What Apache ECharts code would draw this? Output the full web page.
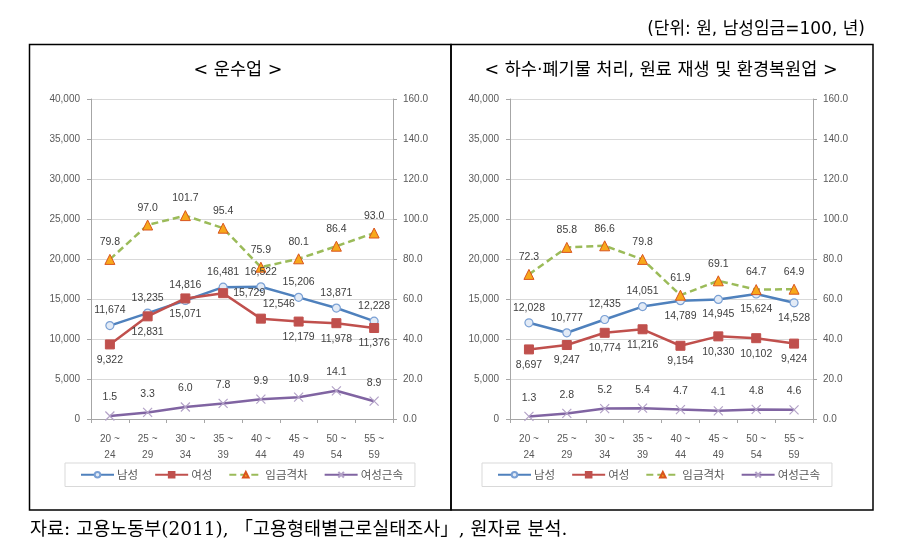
<!DOCTYPE html>
<html>
<head>
<meta charset="utf-8">
<script src="https://cdn.jsdelivr.net/npm/echarts@6/dist/echarts.min.js"></script>
<style>
html,body{margin:0;padding:0;background:#fff;}
#c{width:920px;height:546px;}
</style>
</head>
<body>
<div id="c"></div>
<script>
// ---- data ----
const categories = ['20 ~\n24', '25 ~\n29', '30 ~\n34', '35 ~\n39', '40 ~\n44', '45 ~\n49', '50 ~\n54', '55 ~\n59'];
const seriesNames = ['남성', '여성', '임금격차', '여성근속'];

// 운수업
const transMale   = [11674, 13235, 14816, 16481, 16522, 15206, 13871, 12228];
const transFemale = [9322, 12831, 15071, 15729, 12546, 12179, 11978, 11376];
const transRatio  = [79.8, 97.0, 101.7, 95.4, 75.9, 80.1, 86.4, 93.0];
const transTenure = [1.5, 3.3, 6.0, 7.8, 9.9, 10.9, 14.1, 8.9];

// 하수·폐기물 처리, 원료 재생 및 환경복원업
const sewMale   = [12028, 10777, 12435, 14051, 14789, 14945, 15624, 14528];
const sewFemale = [8697, 9247, 10774, 11216, 9154, 10330, 10102, 9424];
const sewRatio  = [72.3, 85.8, 86.6, 79.8, 61.9, 69.1, 64.7, 64.9];
const sewTenure = [1.3, 2.8, 5.2, 5.4, 4.7, 4.1, 4.8, 4.6];

const leftTicks = [0, 5000, 10000, 15000, 20000, 25000, 30000, 35000, 40000];
const rightTicks = [0, 20, 40, 60, 80, 100, 120, 140, 160];

// ---- label placement (style only) ----
const transMalePos   = ['top','top','top','top','top','top','top','top'];
const transFemalePos = ['bottom','bottom','bottom','right','topRight','bottom','bottom','bottom'];
const sewMalePos     = ['top','top','top','top','bottom','bottom','bottom','bottom'];
const sewFemalePos   = ['bottom','bottom','bottom','bottom','bottom','bottom','bottom','bottom'];

const COL = {
  male: '#4F81BD', female: '#C0504D', ratio: '#9BBB59', tenure: '#8064A2'
};
const labelBase = {
  show: true, fontSize: 10.5, color: '#404040', fontFamily: 'Liberation Sans, Arial, sans-serif', distance: 5
};

function withPos(values, pos) {
  return values.map((v, i) => {
    const p = pos[i];
    if (p === 'topRight') {
      return { value: v, label: { position: 'top', offset: [18, 1] } };
    }
    return { value: v, label: { position: p } };
  });
}
const fmtThousand = p => Number(p.value).toLocaleString('en-US');
const fmtOne = p => Number(p.value).toFixed(1);

function buildSeries(gi, male, female, ratio, tenure, malePos, femalePos) {
  const xi = gi, yl = gi * 2, yr = gi * 2 + 1;
  return [
    {
      name: seriesNames[0], type: 'line', xAxisIndex: xi, yAxisIndex: yl,
      data: withPos(male, malePos),
      symbol: 'circle', symbolSize: 8,
      lineStyle: { color: COL.male, width: 2.5 },
      itemStyle: { color: '#e3ebf6', borderColor: '#7aa0d4', borderWidth: 1.2 },
      label: Object.assign({}, labelBase, { formatter: fmtThousand }),
      z: 3
    },
    {
      name: seriesNames[1], type: 'line', xAxisIndex: xi, yAxisIndex: yl,
      data: withPos(female, femalePos),
      symbol: 'rect', symbolSize: 9,
      lineStyle: { color: COL.female, width: 2.5 },
      itemStyle: { color: COL.female, borderColor: COL.female, borderWidth: 1 },
      label: Object.assign({}, labelBase, { formatter: fmtThousand }),
      z: 4
    },
    {
      name: seriesNames[2], type: 'line', xAxisIndex: xi, yAxisIndex: yr,
      data: ratio,
      symbol: 'triangle', symbolSize: 10,
      lineStyle: { color: COL.ratio, width: 2.5, type: [7, 4] },
      itemStyle: { color: '#F7A81B', borderColor: '#D9541E', borderWidth: 1 },
      label: Object.assign({}, labelBase, { position: 'top', distance: 6, formatter: fmtOne }),
      z: 3
    },
    {
      name: seriesNames[3], type: 'line', xAxisIndex: xi, yAxisIndex: yr,
      data: tenure,
      symbol: 'path://M0,0L10,10M0,10L10,0', symbolSize: 9, symbolKeepAspect: true,
      lineStyle: { color: COL.tenure, width: 2.5 },
      itemStyle: { color: 'none', borderColor: '#B3A2C7', borderWidth: 1.2 },
      label: Object.assign({}, labelBase, { position: 'top', distance: 6, formatter: fmtOne }),
      z: 3
    }
  ];
}

const axisLabelStyle = { fontSize: 10, color: '#595959', fontFamily: 'Liberation Sans, Arial, sans-serif' };
const axisLineStyle = { lineStyle: { color: '#A6A6A6', width: 1 } };

function xAxisCfg(gi) {
  return {
    type: 'category', gridIndex: gi, data: categories, boundaryGap: true,
    axisLine: axisLineStyle,
    axisTick: { show: true, length: 4, lineStyle: { color: '#A6A6A6' } },
    axisLabel: Object.assign({}, axisLabelStyle, { margin: 12, lineHeight: 16, interval: 0 })
  };
}
function yAxesCfg(gi) {
  return [
    {
      type: 'value', gridIndex: gi, position: 'left',
      min: leftTicks[0], max: leftTicks[leftTicks.length - 1], interval: leftTicks[1] - leftTicks[0],
      axisLine: Object.assign({ show: true }, axisLineStyle),
      axisTick: { show: true, length: 4, lineStyle: { color: '#A6A6A6' } },
      splitLine: { show: true, lineStyle: { color: '#D9D9D9', width: 1 } },
      axisLabel: Object.assign({}, axisLabelStyle, { margin: 11, formatter: v => Number(v).toLocaleString('en-US') })
    },
    {
      type: 'value', gridIndex: gi, position: 'right',
      min: rightTicks[0], max: rightTicks[rightTicks.length - 1], interval: rightTicks[1] - rightTicks[0],
      axisLine: Object.assign({ show: true }, axisLineStyle),
      axisTick: { show: true, length: 4, lineStyle: { color: '#A6A6A6' } },
      splitLine: { show: false },
      axisLabel: Object.assign({}, axisLabelStyle, { margin: 10, formatter: v => Number(v).toFixed(1) })
    }
  ];
}

function legendCfg(left) {
  return {
    left: left, top: 463, orient: 'horizontal',
    data: seriesNames,
    itemWidth: 33, itemHeight: 7, itemGap: 16,
    padding: [6, 12, 6, 15],
    borderColor: '#D9D9D9', borderWidth: 1,
    textStyle: { fontSize: 11.5, color: '#595959', fontFamily: 'Noto Sans CJK KR', padding: [0, 0, 0, -2] },
    selectedMode: false
  };
}

function txt(x, y, s, font, align) {
  return { type: 'text', x: x, y: y, silent: true,
    style: { text: s, fill: '#000', font: font, textAlign: align || 'left', textVerticalAlign: 'middle' } };
}
const SANS = '"DejaVu Sans", "Noto Sans CJK KR"';
const SERIF = '"DejaVu Serif", "Noto Sans CJK KR"';

const chart = echarts.init(document.getElementById('c'), null, { renderer: 'canvas' });
const option = {
  backgroundColor: '#fff',
  animation: false,
  grid: [
    { left: 91, right: 527, top: 99, bottom: 127 },
    { left: 510, right: 107, top: 99, bottom: 127 }
  ],
  xAxis: [xAxisCfg(0), xAxisCfg(1)],
  yAxis: yAxesCfg(0).concat(yAxesCfg(1)),
  legend: [legendCfg(65), legendCfg(482)],
  series: buildSeries(0, transMale, transFemale, transRatio, transTenure, transMalePos, transFemalePos)
    .concat(buildSeries(1, sewMale, sewFemale, sewRatio, sewTenure, sewMalePos, sewFemalePos)),
  graphic: [
    { type: 'rect', shape: { x: 29.5, y: 44.5, width: 421.5, height: 465.5 }, style: { fill: 'none', stroke: '#000', lineWidth: 1.5 }, silent: true },
    { type: 'rect', shape: { x: 451, y: 44.5, width: 422, height: 465.5 }, style: { fill: 'none', stroke: '#000', lineWidth: 1.5 }, silent: true },
    txt(238, 70, '< 운수업 >', '17.5px ' + SANS, 'center'),
    txt(661, 70, '< 하수·폐기물 처리, 원료 재생 및 환경복원업 >', '17.5px ' + SANS, 'center'),
    txt(865, 30, '(단위: 원, 남성임금=100, 년)', '17px ' + SANS, 'right'),
    txt(30, 530, '자료: 고용노동부(2011), 「고용형태별근로실태조사」, 원자료 분석.', '18.5px ' + SERIF, 'left')
  ]
};
chart.setOption(option);
</script>
</body>
</html>
